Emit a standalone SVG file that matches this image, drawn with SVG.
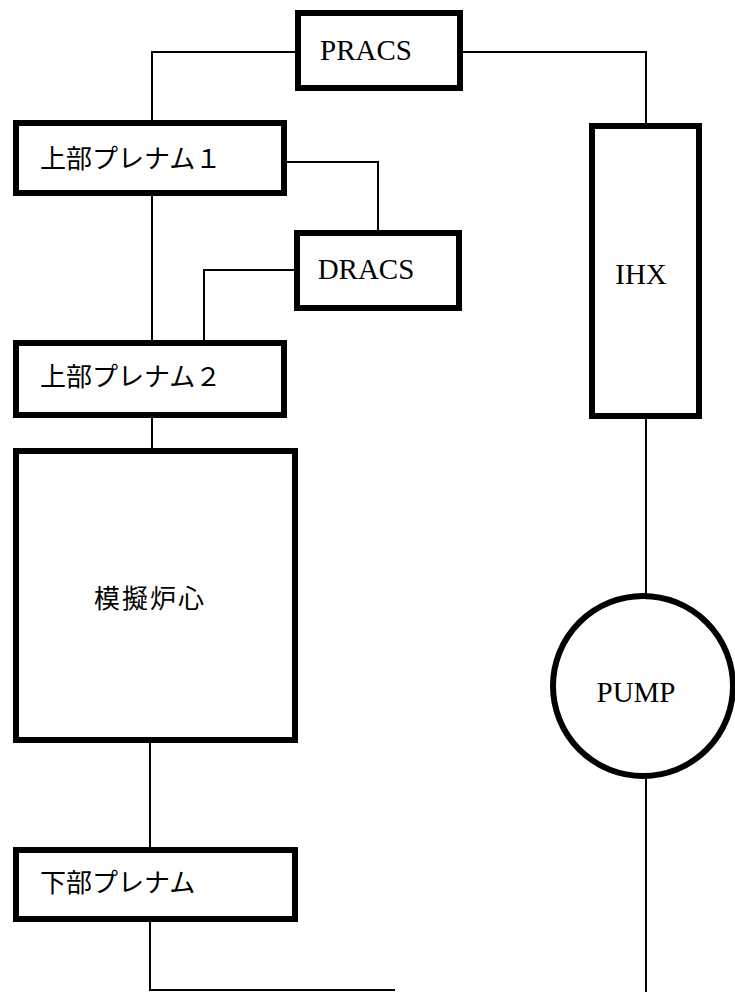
<svg xmlns="http://www.w3.org/2000/svg" width="735" height="992" viewBox="0 0 735 992">
<style>
.box{fill:#fff;stroke:#000;stroke-width:6}
.con{fill:none;stroke:#000;stroke-width:2}
.en{font-family:"Liberation Serif",serif;font-size:29px;text-anchor:middle;fill:#000}
.jp{font-family:"Noto Sans CJK JP",sans-serif;font-size:26px;fill:#000}
</style>
<rect width="735" height="992" fill="#fff"/>
<g id="connectors">
<polyline class="con" points="298,52 152,52 152,123"/>
<polyline class="con" points="460,52 646,52 646,126"/>
<polyline class="con" points="284,162 378,162 378,233"/>
<polyline class="con" points="297,270 204,270 204,343"/>
<line class="con" x1="152" y1="193" x2="152" y2="343"/>
<line class="con" x1="152" y1="415" x2="152" y2="451"/>
<line class="con" x1="150" y1="740" x2="150" y2="850"/>
<polyline class="con" points="150,919 150,990 395,990"/>
<line class="con" x1="646" y1="416" x2="646" y2="596"/>
<line class="con" x1="646" y1="776" x2="646" y2="992"/>
</g>
<g id="pracs">
<rect class="box" x="298" y="13" width="162" height="75"/>
<text class="en" x="366" y="60">PRACS</text>
</g>
<g id="upper-plenum-1">
<rect class="box" x="16" y="123" width="268" height="70"/>
<text class="jp" x="40" y="168">上部プレナム１</text>
</g>
<g id="dracs">
<rect class="box" x="297" y="233" width="162" height="75"/>
<text class="en" x="366" y="279">DRACS</text>
</g>
<g id="ihx">
<rect class="box" x="592" y="126" width="107" height="290"/>
<text class="en" x="641" y="284">IHX</text>
</g>
<g id="upper-plenum-2">
<rect class="box" x="16" y="343" width="268" height="72"/>
<text class="jp" x="40" y="386">上部プレナム２</text>
</g>
<g id="core">
<rect class="box" x="16" y="451" width="279" height="289"/>
<text class="jp" x="150" y="608" text-anchor="middle" letter-spacing="2">模擬炉心</text>
</g>
<g id="lower-plenum">
<rect class="box" x="16" y="850" width="279" height="69"/>
<text class="jp" x="40" y="892">下部プレナム</text>
</g>
<g id="pump">
<circle class="box" cx="643" cy="686" r="90"/>
<text class="en" x="636" y="702">PUMP</text>
</g>
</svg>
